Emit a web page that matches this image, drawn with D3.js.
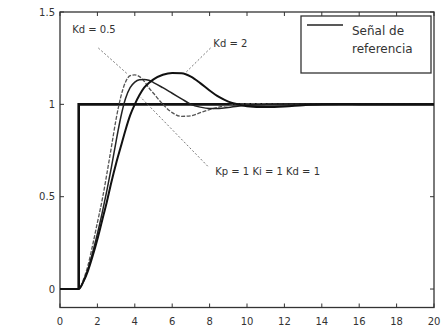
<!DOCTYPE html>
<html><head><meta charset="utf-8">
<script src="https://cdn.jsdelivr.net/npm/d3@7"></script>
<style>body{margin:0;background:#fff}svg{display:block}</style>
</head><body>
<svg id="c" width="444" height="336"></svg>
<script>
const t     = [0,1,1.25,1.5,1.75,2,2.25,2.5,2.75,3,3.25,3.5,3.75,4,4.25,4.5,4.75,5,5.5,6,6.5,7,7.5,8,8.5,9,9.5,10,11,12,13,14,15,16,18,20];
const kd05  = [0,0,0.05,0.13,0.24,0.36,0.48,0.62,0.77,0.92,1.04,1.12,1.155,1.16,1.15,1.125,1.09,1.06,1.0,0.955,0.935,0.938,0.955,0.972,0.985,0.994,1.0,1.003,1.004,1.002,1.0,1.0,1.0,1.0,1.0,1.0];
const kd1   = [0,0,0.04,0.11,0.2,0.3,0.41,0.53,0.66,0.8,0.93,1.03,1.09,1.12,1.133,1.135,1.13,1.118,1.09,1.06,1.03,1.0,0.985,0.978,0.978,0.983,0.99,0.995,1.0,1.002,1.001,1.0,1.0,1.0,1.0,1.0];
const kd2   = [0,0,0.04,0.1,0.18,0.27,0.37,0.47,0.58,0.68,0.77,0.86,0.94,1.0,1.05,1.09,1.115,1.135,1.16,1.17,1.168,1.15,1.115,1.075,1.04,1.015,1.0,0.99,0.985,0.988,0.995,1.0,1.002,1.001,1.0,1.0];
const refT  = [1,1,20];
const refY  = [0,1,1];
const xTicks = [0,2,4,6,8,10,12,14,16,18,20];
const yTicks = [0,0.5,1,1.5];
const yTickLabels = ["0","0.5","1","1.5"];
const legendText = ["Señal de","referencia"];
const annotations = [
  {text:"Kd = 0.5", tx:0.65, ty:1.388, from:[2.05,1.305], to:[3.6,1.165]},
  {text:"Kd = 2", tx:8.2, ty:1.31, from:[8.05,1.305], to:[6.7,1.17]},
  {text:"Kp = 1   Ki = 1   Kd = 1", tx:8.3, ty:0.62, from:[7.9,0.665], to:[4.3,1.04]}
];

const svg = d3.select("#c");
const L=60, R=434, T=12, B=307.5;
const x = d3.scaleLinear().domain([0,20]).range([L,R]);
const y = d3.scaleLinear().domain([-0.1,1.5]).range([B,T]);
const ink = "#222";

// box
svg.append("rect").attr("x",L).attr("y",T).attr("width",R-L).attr("height",B-T)
  .attr("fill","none").attr("stroke","#333").attr("stroke-width",1.3);

// ticks (inward, all four sides)
const tl = 4;
xTicks.forEach(v=>{
  svg.append("line").attr("x1",x(v)).attr("x2",x(v)).attr("y1",B).attr("y2",B-tl).attr("stroke","#333");
  svg.append("line").attr("x1",x(v)).attr("x2",x(v)).attr("y1",T).attr("y2",T+tl).attr("stroke","#333");
  svg.append("text").attr("x",x(v)).attr("y",B+17).attr("text-anchor","middle")
    .attr("font-family","DejaVu Sans").attr("font-size",10).attr("fill","#333").text(v);
});
yTicks.forEach((v,i)=>{
  svg.append("line").attr("x1",L).attr("x2",L+tl).attr("y1",y(v)).attr("y2",y(v)).attr("stroke","#333");
  svg.append("line").attr("x1",R).attr("x2",R-tl).attr("y1",y(v)).attr("y2",y(v)).attr("stroke","#333");
  svg.append("text").attr("x",L-5).attr("y",y(v)+3.5).attr("text-anchor","end")
    .attr("font-family","DejaVu Sans").attr("font-size",10).attr("fill","#333").text(yTickLabels[i]);
});

const line = d3.line().x(d=>x(d[0])).y(d=>y(d[1])).curve(d3.curveMonotoneX);

// reference step
svg.append("path").datum(refT.map((v,i)=>[v,refY[i]]))
  .attr("d",d3.line().x(d=>x(d[0])).y(d=>y(d[1])))
  .attr("fill","none").attr("stroke","#111").attr("stroke-width",2.6);

// responses
svg.append("path").datum(t.map((v,i)=>[v,kd05[i]])).attr("d",line)
  .attr("fill","none").attr("stroke","#555").attr("stroke-width",1.3).attr("stroke-dasharray","4,1.5");
svg.append("path").datum(t.map((v,i)=>[v,kd1[i]])).attr("d",line)
  .attr("fill","none").attr("stroke","#222").attr("stroke-width",1.5);
svg.append("path").datum(t.map((v,i)=>[v,kd2[i]])).attr("d",line)
  .attr("fill","none").attr("stroke","#111").attr("stroke-width",2);

// annotations
annotations.forEach(a=>{
  svg.append("line").attr("x1",x(a.from[0])).attr("y1",y(a.from[1]))
    .attr("x2",x(a.to[0])).attr("y2",y(a.to[1]))
    .attr("stroke","#777").attr("stroke-width",1).attr("stroke-dasharray","2,2");
  svg.append("text").attr("x",x(a.tx)).attr("y",y(a.ty)).attr("font-family","DejaVu Sans")
    .attr("font-size",10).attr("fill","#333").text(a.text);
});

// legend
const lg = svg.append("g");
lg.append("rect").attr("x",301).attr("y",16).attr("width",130).attr("height",57)
  .attr("fill","#fff").attr("stroke","#333").attr("stroke-width",1.3);
lg.append("line").attr("x1",307).attr("x2",343).attr("y1",25).attr("y2",25).attr("stroke","#222").attr("stroke-width",1.5);
legendText.forEach((s,i)=>{
  lg.append("text").attr("x",352).attr("y",35+i*18).attr("font-family","DejaVu Sans")
    .attr("font-size",12).attr("fill","#333").text(s);
});
</script>
</body></html>
